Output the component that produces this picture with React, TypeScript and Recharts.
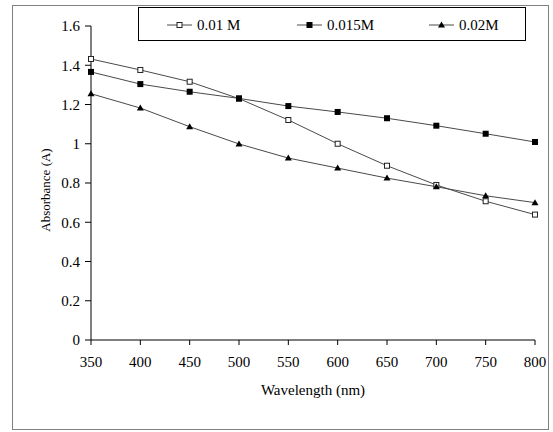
import React from "react";
import { LineChart, Line, XAxis, YAxis, Label } from "recharts";

const wavelengths = [350, 400, 450, 500, 550, 600, 650, 700, 750, 800];
const abs001 = [1.432, 1.376, 1.316, 1.23, 1.121, 1.0, 0.888, 0.79, 0.707, 0.639];
const abs0015 = [1.366, 1.304, 1.265, 1.231, 1.192, 1.162, 1.13, 1.092, 1.051, 1.009];
const abs002 = [1.255, 1.182, 1.087, 0.999, 0.927, 0.876, 0.825, 0.781, 0.735, 0.7];
const xTicks = [350, 400, 450, 500, 550, 600, 650, 700, 750, 800];
const yTicks = [0, 0.2, 0.4, 0.6, 0.8, 1, 1.2, 1.4, 1.6];
const seriesNames = ["0.01 M", "0.015M", "0.02M"];

const rows = wavelengths.map((w, i) => ({
  w,
  a: abs001[i],
  b: abs0015[i],
  c: abs002[i],
}));

const FONT = "Liberation Serif, DejaVu Serif, serif";
const LINE = "#4a4a4a";

type Kind = "open" | "square" | "tri";

function Marker({ kind, cx, cy }: { kind: Kind; cx: number; cy: number }) {
  if (kind === "open")
    return <rect x={cx - 2.5} y={cy - 2.5} width={5} height={5} fill="#fff" stroke="#222" strokeWidth={1} />;
  if (kind === "square")
    return <rect x={cx - 3} y={cy - 3} width={6} height={6} fill="#000" />;
  return <polygon points={`${cx},${cy - 3.5} ${cx + 3.5},${cy + 2.5} ${cx - 3.5},${cy + 2.5}`} fill="#000" />;
}

const dotFor = (kind: Kind) => (p: any) =>
  <Marker key={`${kind}-${p.index}`} kind={kind} cx={p.cx} cy={p.cy} />;

const kinds: Kind[] = ["open", "square", "tri"];
const legendX = [28, 158, 290];

// legend drawn as an overlay so it doesn't eat into the plot area
function LegendBox() {
  return (
    <div
      style={{
        position: "absolute",
        left: 138,
        top: 7,
        width: 386,
        height: 32,
        border: "1px solid #000",
        background: "#fff",
      }}
    >
      <svg width={386} height={32} style={{ display: "block" }}>
        {seriesNames.map((name, i) => (
          <g key={name}>
            <line x1={legendX[i]} x2={legendX[i] + 25} y1={17} y2={17} stroke={LINE} />
            <Marker kind={kinds[i]} cx={legendX[i] + 12.5} cy={17} />
            <text x={legendX[i] + 30} y={22} fontFamily={FONT} fontSize={15} fill="#000">
              {name}
            </text>
          </g>
        ))}
      </svg>
    </div>
  );
}

const xTitle = (props: any) => {
  const vb = props.viewBox;
  return (
    <text
      x={vb.x + vb.width / 2}
      y={vb.y + vb.height + 25}
      textAnchor="middle"
      fontFamily={FONT}
      fontSize={15}
      fill="#000"
    >
      Wavelength (nm)
    </text>
  );
};

const yTitle = (props: any) => {
  const vb = props.viewBox;
  const cx = vb.x - 1;
  const cy = vb.y + vb.height / 2 + 7;
  return (
    <text
      x={cx}
      y={cy}
      dy={5}
      transform={`rotate(-90, ${cx}, ${cy})`}
      textAnchor="middle"
      fontFamily={FONT}
      fontSize={13}
      fill="#000"
    >
      Absorbance (A)
    </text>
  );
};

export default function App() {
  return (
    <div style={{ position: "absolute", left: 0, top: 0, width: 553, height: 432, background: "#fff" }}>
      <div
        style={{
          position: "absolute",
          left: 12,
          top: 5,
          width: 535,
          height: 423,
          border: "1px solid #808080",
        }}
      />
      <div style={{ position: "absolute", left: 0, top: 0 }}>
        <LineChart
          width={553}
          height={432}
          data={rows}
          margin={{ top: 26, right: 18, bottom: 62, left: 46 }}
        >
          <XAxis
            dataKey="w"
            type="number"
            domain={[350, 800]}
            ticks={xTicks}
            height={30}
            stroke="#000"
            tickSize={5}
            tickMargin={11}
            tick={{ fill: "#000", fontFamily: FONT, fontSize: 15 }}
          >
            <Label content={xTitle} />
          </XAxis>
          <YAxis
            type="number"
            domain={[0, 1.6]}
            ticks={yTicks}
            width={45}
            stroke="#000"
            tickSize={6}
            tickMargin={5}
            tick={{ fill: "#000", fontFamily: FONT, fontSize: 15 }}
          >
            <Label content={yTitle} />
          </YAxis>
          <Line dataKey="a" name={seriesNames[0]} stroke={LINE} strokeWidth={1} dot={dotFor("open")} isAnimationActive={false} />
          <Line dataKey="b" name={seriesNames[1]} stroke={LINE} strokeWidth={1} dot={dotFor("square")} isAnimationActive={false} />
          <Line dataKey="c" name={seriesNames[2]} stroke={LINE} strokeWidth={1} dot={dotFor("tri")} isAnimationActive={false} />
        </LineChart>
      </div>
      <LegendBox />
    </div>
  );
}
